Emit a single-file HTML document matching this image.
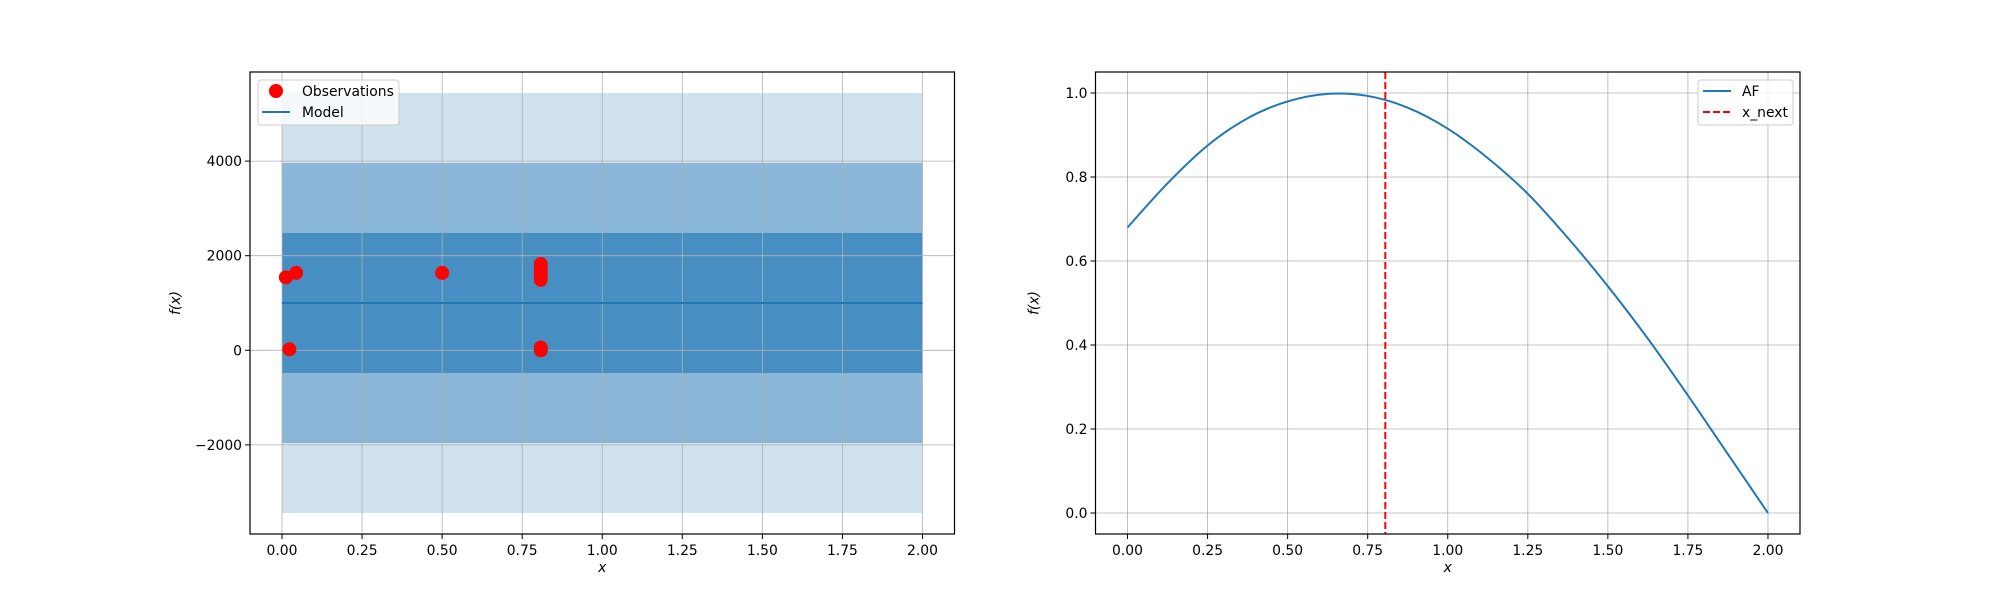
<!DOCTYPE html>
<html><head><meta charset="utf-8"><style>
html,body{margin:0;padding:0;background:#fff;width:2000px;height:600px;overflow:hidden}
svg text{font-family:"DejaVu Sans","Liberation Sans",sans-serif;font-size:13.9px;fill:#000}
</style></head><body>
<svg id="fig" width="2000" height="600" xmlns="http://www.w3.org/2000/svg"></svg>
<script>
// ---- Left chart data ----
const obsX = [0.012, 0.044, 0.023, 0.5, 0.808, 0.808, 0.808, 0.808, 0.808, 0.808, 0.808];
const obsY = [1543, 1636, 20, 1636, 1825, 1740, 1650, 1560, 1490, 57, 0];
const modelMean = 1000;
const modelSigma = 1480;
const leftXTicks = [0, 0.25, 0.5, 0.75, 1.0, 1.25, 1.5, 1.75, 2.0];
const leftXTickLabels = ["0.00","0.25","0.50","0.75","1.00","1.25","1.50","1.75","2.00"];
const leftYTicks = [-2000, 0, 2000, 4000];
const leftYTickLabels = ["\u22122000","0","2000","4000"];
// ---- Right chart data ----
const afX = [0, 0.125, 0.25, 0.375, 0.5, 0.625, 0.75, 0.875, 1.0, 1.125, 1.25, 1.375, 1.5, 1.625, 1.75, 1.875, 2.0];
const afY = [0.68, 0.785, 0.875, 0.94, 0.98, 0.998, 0.993, 0.965, 0.915, 0.845, 0.76, 0.655, 0.54, 0.415, 0.28, 0.14, 0.0];
const xNext = 0.805;
const rightYTicks = [0, 0.2, 0.4, 0.6, 0.8, 1.0];
const rightYTickLabels = ["0.0","0.2","0.4","0.6","0.8","1.0"];

const NS = "http://www.w3.org/2000/svg";
const fig = document.getElementById('fig');
function mk(tag, attrs, parent){const e=document.createElementNS(NS,tag);for(const k in attrs)e.setAttribute(k,attrs[k]);(parent||fig).appendChild(e);return e;}

const topY=72, bot=534;
function axes(x0, x1, ymin, ymax){
  return {x0,x1,sx:v=>x0+(v+0.1)/2.2*(x1-x0), sy:v=>bot-(v-ymin)/(ymax-ymin)*(bot-topY)};
}
const A = axes(250, 954.5, -3884, 5884);
const B = axes(1095.5, 1800, -0.05, 1.05);

// Left: bands
const gL = mk('g',{});


[[3,'#d1e2ef'],[2,'#8ab6d7'],[1,'#478fc2']].forEach(([k,c])=>{
  const r=mk('rect',{x:A.sx(0),y:A.sy(modelMean+k*modelSigma),width:A.sx(2)-A.sx(0),height:A.sy(modelMean-k*modelSigma)-A.sy(modelMean+k*modelSigma),fill:c},gL);
  
  
});
function grid(Ax, xt, yt, g){
  xt.forEach(v=>mk('line',{x1:Ax.sx(v),x2:Ax.sx(v),y1:topY,y2:bot,stroke:'#b0b0b0','stroke-width':0.8},g));
  yt.forEach(v=>mk('line',{x1:Ax.x0,x2:Ax.x1,y1:Ax.sy(v),y2:Ax.sy(v),stroke:'#b0b0b0','stroke-width':0.8},g));
}
grid(A, leftXTicks, leftYTicks, gL);
const ml=mk('line',{x1:A.sx(0),x2:A.sx(2),y1:A.sy(modelMean),y2:A.sy(modelMean),stroke:'#1f77b4','stroke-width':2},gL);


obsX.forEach((x,i)=>{
  const c=mk('circle',{cx:A.sx(x),cy:A.sy(obsY[i]),r:7,fill:'#ff0000'},gL);
  
  
});

function frameTicks(Ax, xt, xl, yt, yl, g, yOff){
  mk('rect',{x:Ax.x0,y:topY,width:Ax.x1-Ax.x0,height:bot-topY,fill:'none',stroke:'#000','stroke-width':1.2},g);
  xt.forEach((v,i)=>{
    mk('line',{x1:Ax.sx(v),x2:Ax.sx(v),y1:bot,y2:bot+5,stroke:'#000'},g);
    const t=mk('text',{x:Ax.sx(v),y:bot+21,'text-anchor':'middle'},g);t.textContent=xl[i];
    
    
  });
  yt.forEach((v,i)=>{
    mk('line',{x1:Ax.x0-5,x2:Ax.x0,y1:Ax.sy(v),y2:Ax.sy(v),stroke:'#000'},g);
    const t=mk('text',{x:Ax.x0-8,y:Ax.sy(v)+5,'text-anchor':'end'},g);t.textContent=yl[i];
    
    
  });
  const xt2=mk('text',{x:(Ax.x0+Ax.x1)/2,y:bot+38,'text-anchor':'middle','font-style':'italic'},g);xt2.textContent='x';
  
  
  const yx=Ax.x0-yOff;
  const yt2=mk('text',{x:yx,y:(topY+bot)/2,'text-anchor':'middle','font-style':'italic',transform:`rotate(-90 ${yx} ${(topY+bot)/2})`},g);yt2.textContent='f(x)';
  
  
}
frameTicks(A, leftXTicks, leftXTickLabels, leftYTicks, leftYTickLabels, gL, 70);

// Left legend
const lgL=mk('g',{});


mk('rect',{x:258,y:80,width:141,height:45,rx:3,fill:'#fff','fill-opacity':0.8,stroke:'#ccc'},lgL);
mk('circle',{cx:276,cy:91,r:7,fill:'#ff0000'},lgL);
let t=mk('text',{x:302,y:96},lgL);t.textContent='Observations';
mk('line',{x1:262,x2:290,y1:112,y2:112,stroke:'#1f77b4','stroke-width':2},lgL);
t=mk('text',{x:302,y:117},lgL);t.textContent='Model';

// Right chart
const gR=mk('g',{});


grid(B, leftXTicks, rightYTicks, gR);
const P=afX.map((x,i)=>[B.sx(x),B.sy(afY[i])]);
let d='M'+P[0][0]+','+P[0][1];
for(let i=0;i<P.length-1;i++){
  const p0=P[Math.max(0,i-1)],p1=P[i],p2=P[i+1],p3=P[Math.min(P.length-1,i+2)];
  d+=` C${p1[0]+(p2[0]-p0[0])/6},${p1[1]+(p2[1]-p0[1])/6} ${p2[0]-(p3[0]-p1[0])/6},${p2[1]-(p3[1]-p1[1])/6} ${p2[0]},${p2[1]}`;
}
const af=mk('path',{d,fill:'none',stroke:'#1f77b4','stroke-width':2},gR);


const xn=mk('line',{x1:B.sx(xNext),x2:B.sx(xNext),y1:topY,y2:bot,stroke:'#ff0000','stroke-width':2,'stroke-dasharray':'7,3'},gR);


frameTicks(B, leftXTicks, leftXTickLabels, rightYTicks, rightYTickLabels, gR, 57);
const lgR=mk('g',{});


mk('rect',{x:1698,y:80,width:95,height:45,rx:3,fill:'#fff','fill-opacity':0.8,stroke:'#ccc'},lgR);
mk('line',{x1:1703,x2:1731,y1:91,y2:91,stroke:'#1f77b4','stroke-width':2},lgR);
t=mk('text',{x:1742,y:96},lgR);t.textContent='AF';
mk('line',{x1:1703,x2:1731,y1:112,y2:112,stroke:'#ff0000','stroke-width':2,'stroke-dasharray':'7,3'},lgR);
t=mk('text',{x:1742,y:117},lgR);t.textContent='x_next';
</script>
</body></html>
